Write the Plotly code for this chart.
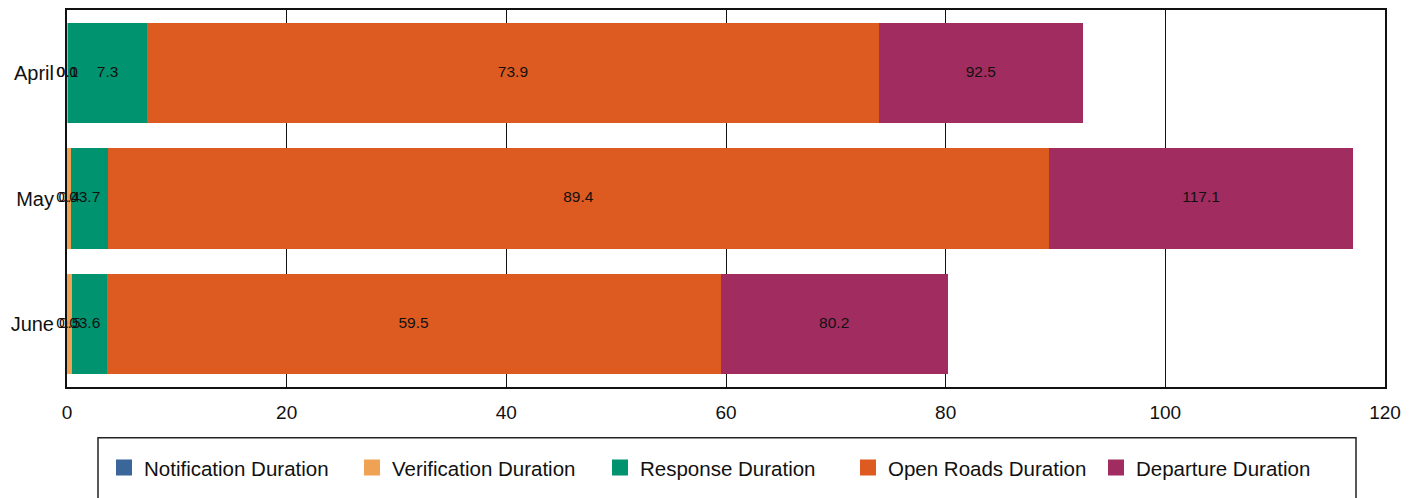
import plotly.graph_objects as go

months = ["April", "May", "June"]
series_names = ["Notification Duration", "Verification Duration", "Response Duration",
                "Open Roads Duration", "Departure Duration"]
notification = [0.0, 0.0, 0.0]
verification = [0.1, 0.4, 0.5]
response = [7.2, 3.3, 3.1]
open_roads = [66.6, 85.7, 55.9]
departure = [18.6, 27.7, 20.7]
colors = ["#3B6699", "#F0A254", "#00936F", "#DD5A21", "#A12C5F"]
x_ticks = [0, 20, 40, 60, 80, 100, 120]

series = [notification, verification, response, open_roads, departure]

# page body has an 8px offset; plot area target in page px: x 67..1385, y 7..387
OFF = 8
PL, PR, PT, PB = 67 - OFF, 1385 - OFF, 0, 387 - OFF
W, H = 1419, 498
PW, PH = PR - PL, PB - PT


def px(x):
    return (x - OFF - PL) / PW


def py(y):
    return (PB - (y - OFF)) / PH


fig = go.Figure()
cum = [0.0] * len(months)
label_x, label_y, label_t = [], [], []
for name, vals, col in zip(series_names, series, colors):
    fig.add_trace(go.Bar(
        y=months, x=vals, name=name, orientation="h", showlegend=False,
        marker=dict(color=col, line=dict(width=0)),
    ))
    for i, v in enumerate(vals):
        label_x.append(cum[i] + v / 2)
        cum[i] = round(cum[i] + v, 1)
        label_y.append(months[i])
        label_t.append(f"{cum[i]:.1f}")

fig.add_trace(go.Scatter(
    x=label_x, y=label_y, text=label_t, mode="text",
    textfont=dict(family="Liberation Sans Narrow, Arial Narrow, Liberation Sans, Arial, sans-serif",
                  size=15.5, color="#111111"),
    showlegend=False, cliponaxis=False, hoverinfo="skip",
))

# legend entries (square swatches)
for name, col in zip(series_names, colors):
    fig.add_trace(go.Scatter(
        x=[None], y=[None], mode="markers", name=name,
        marker=dict(symbol="square", size=16, color=col, line=dict(width=0)),
        hoverinfo="skip",
    ))

fig.update_layout(
    width=W, height=H,
    margin=dict(l=PL, r=W - PR, t=PT, b=H - PB),
    barmode="stack", bargap=0.2,
    plot_bgcolor="white", paper_bgcolor="white",
    font=dict(family="Liberation Sans, Arial, sans-serif", size=19, color="#111111"),
    legend=dict(
        orientation="h", x=px(104), xanchor="left",
        y=py(448), yanchor="top",
        entrywidth=203, entrywidthmode="pixels",
        font=dict(size=20.5), traceorder="normal",
        bgcolor="rgba(0,0,0,0)",
    ),
    shapes=[dict(
        type="rect", xref="paper", yref="paper",
        x0=px(98), x1=px(1356),
        y0=py(438), y1=py(540),
        line=dict(color="#222222", width=1.5), fillcolor="rgba(0,0,0,0)", layer="below",
    )],
)
fig.update_xaxes(
    range=[0, 120], tickvals=x_ticks, ticktext=[str(t) for t in x_ticks],
    showgrid=True, gridcolor="#111111", gridwidth=1.3,
    showline=True, linecolor="#111111", linewidth=2, mirror=True,
    zeroline=False, ticks="", ticklabelstandoff=7, layer="below traces",
)
fig.update_yaxes(
    autorange="reversed", showgrid=False, tickfont=dict(size=20),
    showline=True, linecolor="#111111", linewidth=2, mirror=True,
    ticks="", ticklabelstandoff=7, layer="below traces",
)

fig.write_html("out.html")
